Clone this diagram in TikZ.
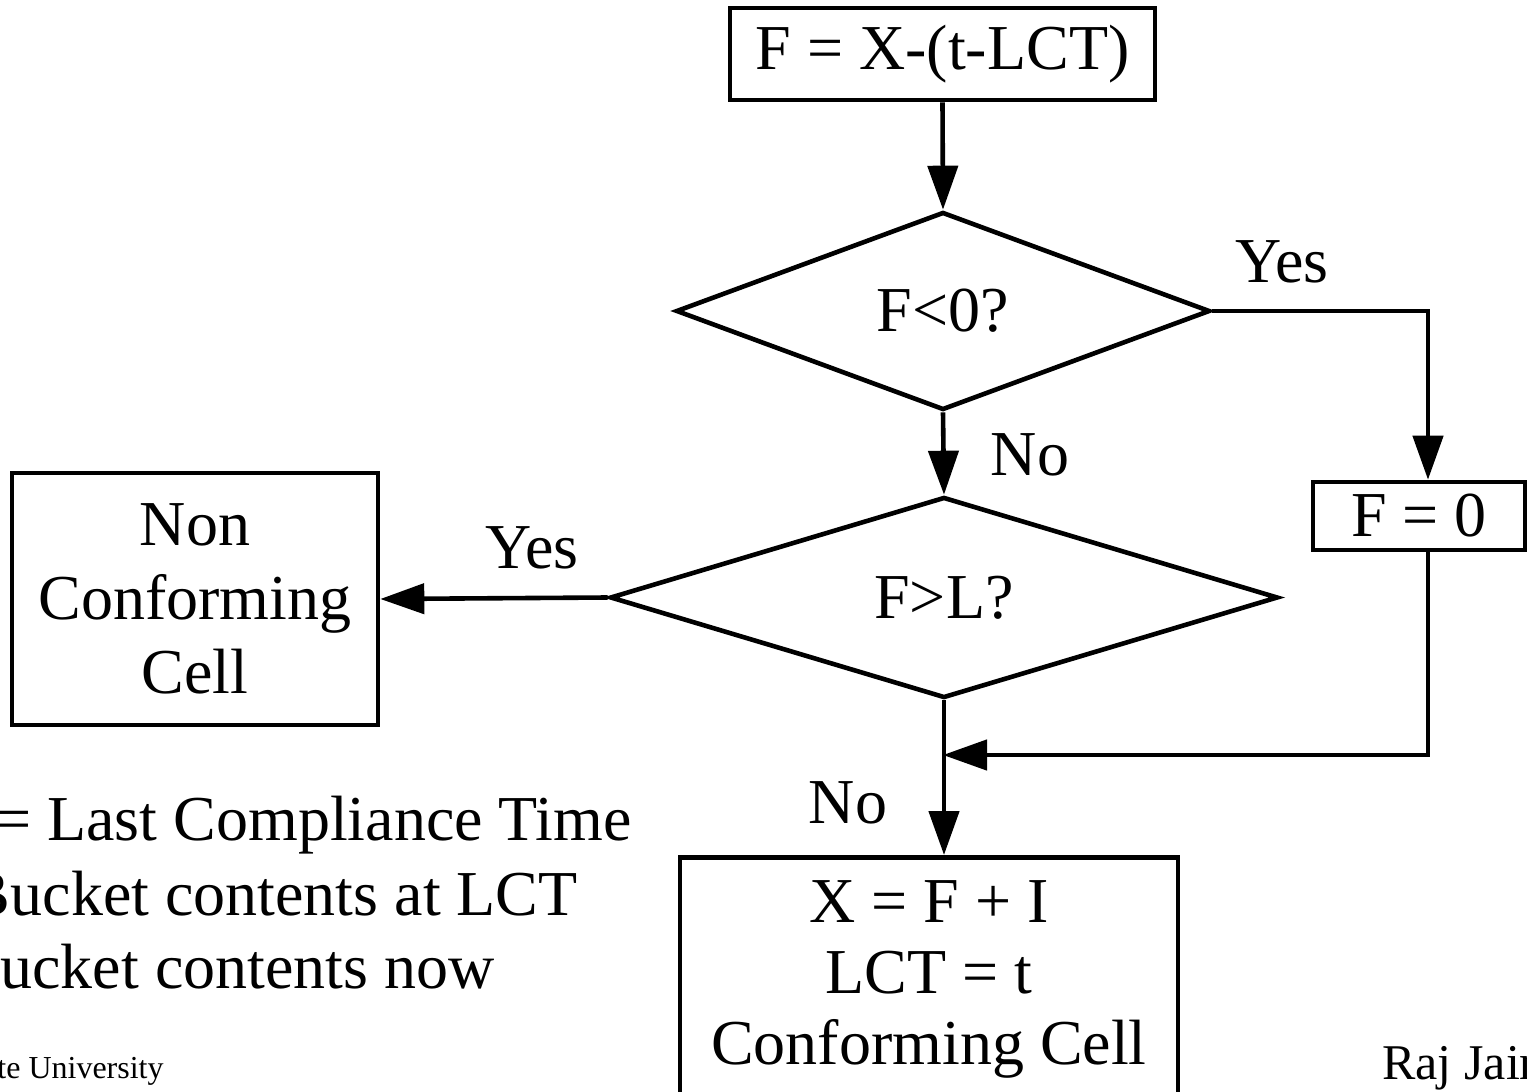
\documentclass[tikz,border=0pt]{standalone}
\usepackage{fontspec}
\setmainfont{Liberation Serif}
\usetikzlibrary{shapes.geometric,arrows.meta}
\tikzset{
  ln/.style={line width=2.3pt},
  arr/.style={ln,-{Triangle[length=22pt,width=15pt]}},
  box/.style={draw,ln,rectangle,inner sep=0pt,font=\fontsize{32}{37}\selectfont,align=center},
  dia/.style={draw,ln,diamond,inner sep=0pt,font=\fontsize{32}{37}\selectfont},
  lbl/.style={inner sep=0pt,font=\fontsize{32}{37}\selectfont},
}
\begin{document}
\begin{tikzpicture}[x=0.5pt,y=-0.5pt]
\useasboundingbox (0,0) rectangle (1527,1092);
\clip (0,0) rectangle (1527,1092);
% boxes
\node[box,minimum width=212.5pt,minimum height=46pt] (top) at (942.5,54) {F = X-(t-LCT)};
\node[dia,minimum width=267pt,minimum height=99pt] (d1) at (943,311) {F<0?};
\node[dia,minimum width=334pt,minimum height=100.5pt] (d2) at (944,597.5) {F>L?};
\node[box,minimum width=106pt,minimum height=34pt] (fz) at (1419,516) {F = 0};
\node[box,minimum width=183pt,minimum height=126pt] (nc) at (195,599) {Non\\Conforming\\Cell};
\node[box,minimum width=249pt,minimum height=122.5pt,anchor=north,font=\fontsize{32}{35.5}\selectfont] (cc) at (929,855) {X = F + I\\LCT = t\\Conforming Cell};
% labels
\node[lbl] (y1) at (1282,262) {Yes};
\node[lbl] (n1) at (1030,455) {No};
\node[lbl] (y2) at (532,548) {Yes};
\node[lbl] (n2) at (848,803) {No};
% coordinates
\coordinate (c1) at (1428,311);
\coordinate (c2) at (1428,755);
\coordinate (j) at (943,755);
% connectors
\draw[arr] (top.south) -- (d1.north);
\draw[arr] (d1.east) -- (c1) -- (c1 |- fz.north);
\draw[arr] (d1.south) -- (d2.north);
\draw[arr] (d2.west) -- (nc.east);
\draw[arr] (d2.south) -- (d2.south |- cc.north);
\draw[arr] (c1 |- fz.south) -- (c2) -- (j);
% legend text
\node[lbl,anchor=base east] (l1) at (632,840) {= Last Compliance Time};
\node[lbl,anchor=base east] (l2) at (578,915) {Bucket contents at LCT};
\node[lbl,anchor=base east] (l3) at (495,988) {Bucket contents now};
% footer
\node[inner sep=0pt,anchor=base east,font=\fontsize{16}{19}\selectfont] (f1) at (164,1078) {te University};
\node[inner sep=0pt,anchor=base west,font=\fontsize{25}{29}\selectfont] (f2) at (1382,1079) {Raj Jain};
\end{tikzpicture}
\end{document}
